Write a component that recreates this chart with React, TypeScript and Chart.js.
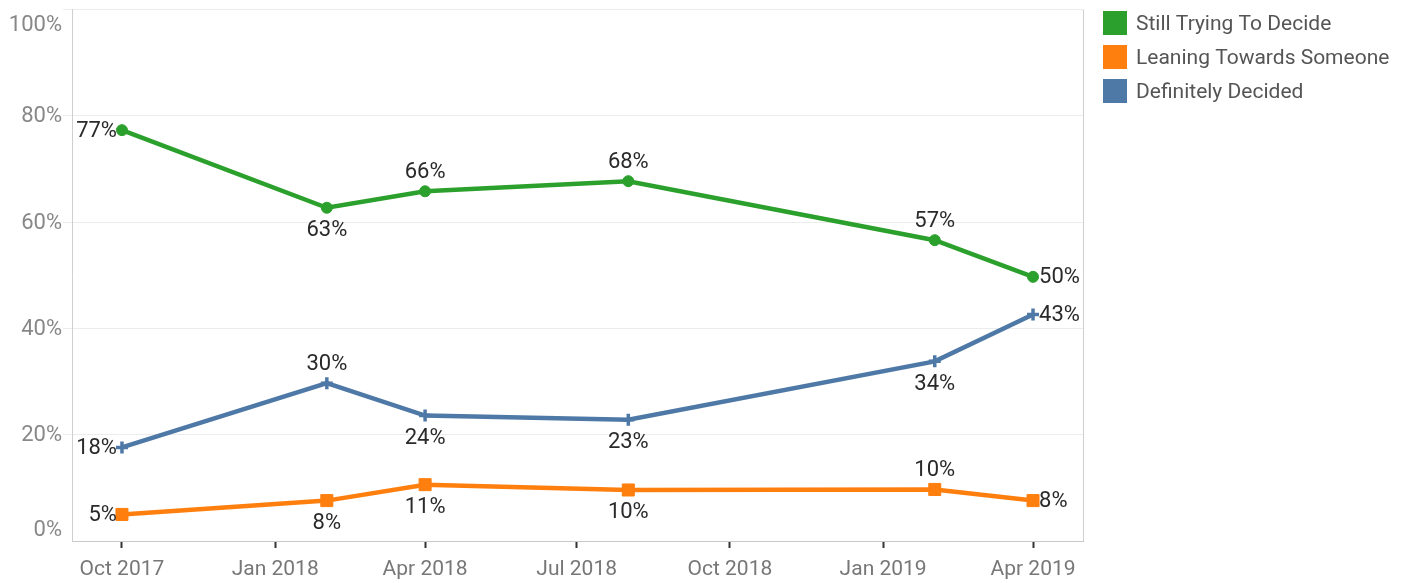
import React, { useEffect, useRef } from 'react';
import { Chart, registerables } from 'chart.js';

Chart.register(...registerables);

const seriesNames = ['Still Trying To Decide', 'Leaning Towards Someone', 'Definitely Decided'];
const seriesColors = ['#2ca02c', '#ff7f0e', '#4e79a7'];
const surveyDates = ['2017-10-01', '2018-02-01', '2018-04-01', '2018-08-01', '2019-02-01', '2019-04-01'];
const stillTrying = [77.3, 62.7, 65.8, 67.7, 56.6, 49.7];
const leaning = [5.0, 7.6, 10.6, 9.6, 9.7, 7.6];
const decided = [17.6, 29.7, 23.6, 22.8, 33.8, 42.6];
const yTickValues = [0, 20, 40, 60, 80, 100];
const yTickLabels = ['0%', '20%', '40%', '60%', '80%', '100%'];
const xTickDates = ['2017-10-01', '2018-01-01', '2018-04-01', '2018-07-01', '2018-10-01', '2019-01-01', '2019-04-01'];
const xTickLabels = ['Oct 2017', 'Jan 2018', 'Apr 2018', 'Jul 2018', 'Oct 2018', 'Jan 2019', 'Apr 2019'];
const xRange = ['2017-09-01', '2019-05-01'];

const FONT = 'Roboto';
const dayNum = (iso: string) => Date.parse(iso + 'T00:00:00Z') / 86400000;

const overlayPlugin = {
  id: 'overlay',
  afterDraw(chart: any) {
    const ctx = chart.ctx;
    const area = chart.chartArea;
    const yScale = chart.scales.y;
    ctx.save();
    // right border
    ctx.strokeStyle = '#cfcfcf';
    ctx.lineWidth = 1;
    ctx.beginPath();
    ctx.moveTo(Math.round(area.right) + 0.5, area.top);
    ctx.lineTo(Math.round(area.right) + 0.5, area.bottom);
    ctx.stroke();

    // y tick labels (Tableau keeps edge labels inside the pane)
    ctx.font = `22px ${FONT}`;
    ctx.fillStyle = '#888888';
    ctx.textAlign = 'right';
    ctx.textBaseline = 'middle';
    yTickValues.forEach((v, i) => {
      let py = yScale.getPixelForValue(v);
      py = Math.max(area.top + 15, Math.min(area.bottom - 12, py));
      ctx.fillText(yTickLabels[i], 62, py + 1);
    });

    // data labels
    ctx.font = `22px ${FONT}`;
    ctx.fillStyle = '#2a2a2a';
    chart.data.datasets.forEach((ds: any, di: number) => {
      const meta = chart.getDatasetMeta(di);
      meta.data.forEach((pt: any, i: number) => {
        const val = Math.round(ds.data[i].y);
        const txt = `${val}%`;
        const pos = ds.labelPos[i];
        let x = pt.x;
        let y = pt.y + 1;
        if (pos === 'left') { ctx.textAlign = 'right'; x -= 5; }
        else if (pos === 'right') { ctx.textAlign = 'left'; x += 6; }
        else if (pos === 'above') { ctx.textAlign = 'center'; y -= 20; }
        else { ctx.textAlign = 'center'; y += 22; }
        ctx.textBaseline = 'middle';
        ctx.fillText(txt, x, y);
      });
    });

    // legend
    ctx.textAlign = 'left';
    ctx.textBaseline = 'middle';
    ctx.font = `21px ${FONT}`;
    seriesNames.forEach((name, i) => {
      const top = 11 + i * 34;
      ctx.fillStyle = seriesColors[i];
      ctx.fillRect(1103, top, 24, 24);
      ctx.fillStyle = '#555555';
      ctx.fillText(name, 1136, top + 14);
    });
    ctx.restore();
  },
};

export default function App() {
  const canvasRef = useRef<HTMLCanvasElement | null>(null);

  useEffect(() => {
    document.body.style.margin = '0';
    const canvas = canvasRef.current;
    if (!canvas) return;
    const toPoints = (vals: number[]) => vals.map((v, i) => ({ x: dayNum(surveyDates[i]), y: v }));
    const chart = new Chart(canvas, {
      type: 'line',
      data: {
        datasets: [
          {
            label: seriesNames[0],
            data: toPoints(stillTrying),
            borderColor: seriesColors[0],
            backgroundColor: seriesColors[0],
            borderWidth: 4.5,
            pointStyle: 'circle',
            pointRadius: 5.5,
            pointBorderWidth: 1,
            labelPos: ['left', 'below', 'above', 'above', 'above', 'right'],
          } as any,
          {
            label: seriesNames[1],
            data: toPoints(leaning),
            borderColor: seriesColors[1],
            backgroundColor: seriesColors[1],
            borderWidth: 4.5,
            pointStyle: 'rect',
            pointRadius: 8.5,
            pointBorderWidth: 1,
            labelPos: ['left', 'below', 'below', 'below', 'above', 'right'],
          } as any,
          {
            label: seriesNames[2],
            data: toPoints(decided),
            borderColor: seriesColors[2],
            backgroundColor: seriesColors[2],
            borderWidth: 4.5,
            pointStyle: 'cross',
            pointRadius: 6,
            pointBorderWidth: 3.5,
            labelPos: ['left', 'above', 'below', 'below', 'below', 'right'],
          } as any,
        ],
      },
      options: {
        responsive: false,
        animation: false,
        devicePixelRatio: 1,
        layout: { padding: { top: 6, right: 322, left: 0, bottom: 0 } },
        plugins: { legend: { display: false }, tooltip: { enabled: false } },
        elements: { line: { tension: 0 } },
        scales: {
          x: {
            type: 'linear',
            min: dayNum(xRange[0]),
            max: dayNum(xRange[1]),
            afterBuildTicks: (s: any) => {
              s.ticks = xTickDates.map((d) => ({ value: dayNum(d) }));
            },
            afterFit: (s: any) => {
              s.height = 42;
            },
            ticks: {
              autoSkip: false,
              maxRotation: 0,
              minRotation: 0,
              callback: (_v: any, i: number) => xTickLabels[i],
              color: '#777777',
              font: { family: FONT, size: 21 },
              padding: 9,
            },
            grid: { drawOnChartArea: false, drawTicks: true, tickLength: 7, tickColor: '#333333', tickWidth: 2 },
            border: { display: true, dash: [3, 3], color: '#c8c8c8', width: 1 },
          },
          y: {
            min: 0,
            max: 100,
            afterBuildTicks: (s: any) => {
              s.ticks = yTickValues.map((v) => ({ value: v }));
            },
            afterFit: (s: any) => {
              s.width = 72;
            },
            ticks: { display: false },
            grid: {
              color: (c: any) => (c.tick && c.tick.value === 0 ? 'rgba(0,0,0,0)' : '#ececec'),
              tickColor: (c: any) => (c.tick && c.tick.value === 0 ? 'rgba(0,0,0,0)' : '#ececec'),
              drawTicks: true,
              tickLength: 9,
              lineWidth: 1,
            },
            border: { display: true, color: '#cfcfcf', width: 1 },
          },
        },
      } as any,
      plugins: [overlayPlugin],
    });
    return () => chart.destroy();
  }, []);

  return (
    <div style={{ width: 1405, height: 583 }}>
      <canvas ref={canvasRef} width={1405} height={583} style={{ display: 'block' }} />
    </div>
  );
}
